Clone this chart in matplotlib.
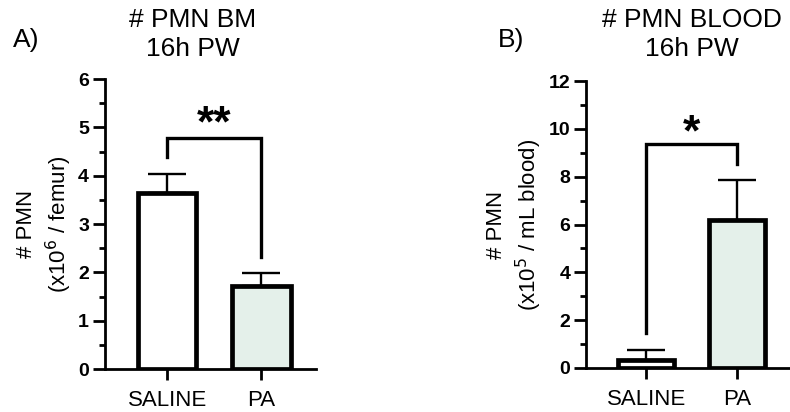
import matplotlib.pyplot as plt
from matplotlib.ticker import MultipleLocator

plt.rcParams['font.family'] = ['Liberation Sans', 'DejaVu Sans']

groups = ['SALINE', 'PA']

# panel A: PMN in bone marrow (x10^6 / femur)
bm_mean = [3.65, 1.72]
bm_err = [0.38, 0.26]
bm_bracket = [4.78, 4.38, 2.32]   # top, left leg end, right leg end
bm_star = '**'
bm_star_y = 5.15

# panel B: PMN in blood (x10^5 / mL blood)
blood_mean = [0.35, 6.2]
blood_err = [0.4, 1.65]
blood_bracket = [9.35, 1.45, 8.55]
blood_star = '*'
blood_star_y = 10.0

colors = ['white', '#e4f0ea']


def draw_panel(ax, means, errs, bracket, star, star_y, ymax, ystep, ylabel):
    x = range(len(groups))
    ax.errorbar(x, means, yerr=[[0] * len(errs), errs], fmt='none',
                ecolor='black', elinewidth=1.7, capsize=13.5, capthick=1.7, zorder=1)
    ax.bar(x, means, width=0.62, color=colors, edgecolor='black', linewidth=3.4, zorder=2)

    top, l_end, r_end = bracket
    ax.plot([0, 0, 1, 1], [l_end, top, top, r_end], color='black', lw=2.4,
            solid_joinstyle='miter', clip_on=False)
    ax.text(0.5, star_y, star, ha='center', va='center_baseline',
            fontsize=32, fontweight='bold')

    ax.set_xlim(-0.66, 1.58)
    ax.set_ylim(0, ymax)
    ax.yaxis.set_major_locator(MultipleLocator(ystep))
    ax.yaxis.set_minor_locator(MultipleLocator(ystep / 2))
    ax.set_xticks(list(x))
    ax.set_xticklabels(groups, fontsize=16)
    for lab in ax.get_yticklabels():
        lab.set_fontweight('bold')
        lab.set_fontsize(14)
    ax.tick_params(axis='y', which='major', length=8.5, width=2, pad=3)
    ax.tick_params(axis='y', which='minor', length=4.5, width=2)
    ax.tick_params(axis='x', length=8, width=2, pad=7)
    ax.spines['top'].set_visible(False)
    ax.spines['right'].set_visible(False)
    ax.spines['left'].set_linewidth(2)
    ax.spines['bottom'].set_linewidth(2)
    ax.set_ylabel(ylabel, fontsize=16, linespacing=1.3, labelpad=3)


fig = plt.figure(figsize=(7.9, 4.12), dpi=100)
ax1 = fig.add_axes([0.133, 0.104, 0.267, 0.704])
ax2 = fig.add_axes([0.742, 0.107, 0.258, 0.696])

draw_panel(ax1, bm_mean, bm_err, bm_bracket, bm_star, bm_star_y, 6, 1,
           '# PMN\n(x10$^{6}$ / femur)')
draw_panel(ax2, blood_mean, blood_err, blood_bracket, blood_star, blood_star_y, 12, 2,
           '# PMN\n(x10$^{5}$ / mL blood)')

fig.text(0.244, 0.951, '# PMN BM', ha='center', va='center', fontsize=19)
fig.text(0.244, 0.880, '16h PW', ha='center', va='center', fontsize=19)
fig.text(0.876, 0.951, '# PMN BLOOD', ha='center', va='center', fontsize=19)
fig.text(0.876, 0.880, '16h PW', ha='center', va='center', fontsize=19)
fig.text(0.033, 0.903, 'A)', ha='center', va='center', fontsize=19)
fig.text(0.647, 0.903, 'B)', ha='center', va='center', fontsize=19)

fig.savefig('out.png', dpi=100)
